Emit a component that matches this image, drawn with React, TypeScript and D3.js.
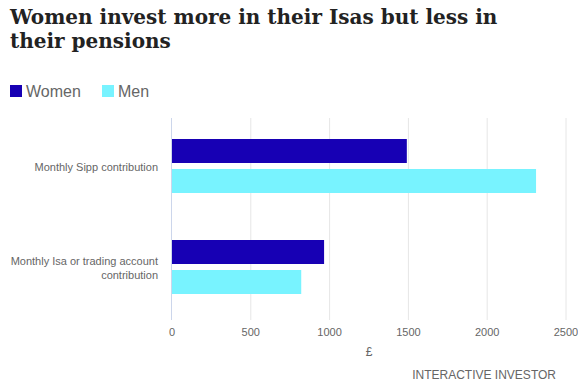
import React from "react";
import * as d3 from "d3";

const categories = ["Monthly Sipp contribution", "Monthly Isa or trading account contribution"];
const categoryLines = [["Monthly Sipp contribution"], ["Monthly Isa or trading account", "contribution"]];
const seriesNames = ["Women", "Men"];
const women = [1490, 965];
const men = [2310, 820];
const ticks = [0, 500, 1000, 1500, 2000, 2500];
const colors = ["#1700b4", "#78f3ff"];

export default function App() {
  const W = 578, H = 391;
  const x = d3.scaleLinear().domain([0, 2500]).range([172, 566]);
  const y = d3.scaleBand<string>().domain(categories).range([116, 318]);
  const inner = d3.scaleBand<string>().domain(seriesNames).range([23, 77]).paddingInner(0.2);
  const values = [women, men];
  return (
    <svg width={W} height={H} style={{ position: "absolute", left: 0, top: 0, background: "#fff" }}>
      <text x={10} y={24} fontFamily="DejaVu Serif" fontWeight="bold" fontSize={20} fill="#222">
        Women invest more in their Isas but less in
      </text>
      <text x={10} y={48} fontFamily="DejaVu Serif" fontWeight="bold" fontSize={20} fill="#222">
        their pensions
      </text>
      {seriesNames.map((s, i) => {
        const lx = i === 0 ? 10 : 102;
        return (
          <g key={s}>
            <rect x={lx} y={85} width={12} height={12} fill={colors[i]} />
            <text x={lx + 16} y={97} fontFamily="Liberation Sans, Arial" fontSize={16} fill="#666">
              {s}
            </text>
          </g>
        );
      })}
      {ticks.slice(1).map((t) => (
        <line key={t} x1={x(t)} x2={x(t)} y1={118} y2={320} stroke="#e6e6e6" strokeWidth={1} />
      ))}
      {categories.map((c, ci) =>
        seriesNames.map((s, si) => (
          <rect
            key={c + s}
            x={x(0)}
            y={(y(c) as number) + (inner(s) as number)}
            width={x(values[si][ci]) - x(0)}
            height={inner.bandwidth()}
            fill={colors[si]}
          />
        ))
      )}
      <line x1={x(0) - 0.5} x2={x(0) - 0.5} y1={118} y2={320} stroke="#ccd6eb" strokeWidth={1} />
      {categories.map((c, ci) => {
        const lines = categoryLines[ci];
        const cy = (y(c) as number) + y.bandwidth() / 2;
        const start = cy - ((lines.length - 1) * 14) / 2 + 4;
        return lines.map((l, li) => (
          <text key={c + li} x={158} y={start + li * 14} textAnchor="end" fontFamily="Liberation Sans, Arial" fontSize={11} fill="#666">
            {l}
          </text>
        ));
      })}
      {ticks.map((t) => (
        <text key={t} x={x(t)} y={336} textAnchor="middle" fontFamily="Liberation Sans, Arial" fontSize={11} fill="#666">
          {t}
        </text>
      ))}
      <text x={369} y={356} textAnchor="middle" fontFamily="Liberation Sans, Arial" fontSize={12} fill="#666">
        £
      </text>
      <text x={556} y={379} textAnchor="end" fontFamily="Liberation Sans, Arial" fontSize={12} fill="#666">
        INTERACTIVE INVESTOR
      </text>
    </svg>
  );
}
